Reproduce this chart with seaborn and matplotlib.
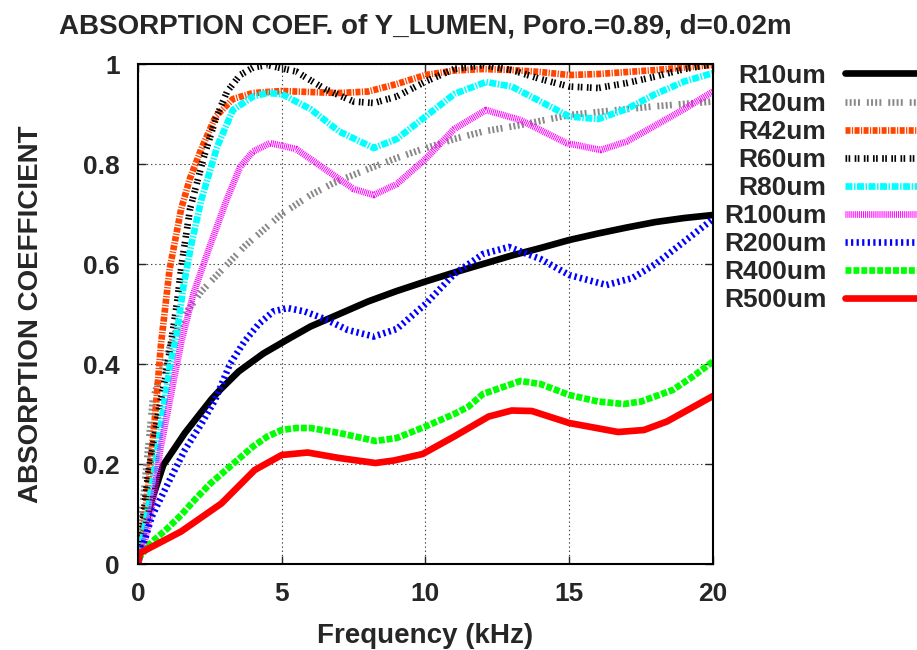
import matplotlib
matplotlib.use("Agg")
import matplotlib.pyplot as plt
import seaborn as sns

sns.set_style("ticks")
plt.rcParams['font.family'] = ['Liberation Sans', 'DejaVu Sans']
plt.rcParams['font.weight'] = 'bold'
plt.rcParams['lines.scale_dashes'] = False

# values (frequency in kHz, absorption coefficient)
f_r10 = [0, 0.13, 0.48, 0.88, 1.63, 2.56, 2.85, 3.5, 4.36, 5.29, 6, 7, 8, 9, 10, 11, 12, 13, 14, 15, 16, 17, 18, 19, 20]
a_r10 = [0, 0.048, 0.128, 0.198, 0.262, 0.33, 0.348, 0.385, 0.421, 0.452, 0.475, 0.5, 0.525, 0.546, 0.565,
         0.583, 0.6, 0.617, 0.632, 0.648, 0.661, 0.673, 0.684, 0.692, 0.698]

f_r20 = [0, 0.1, 0.3, 0.52, 0.94, 1.29, 1.74, 2.2, 2.7, 3.2, 3.7, 4.3, 5, 6, 6.8, 8, 9, 9.8, 11, 12, 13.3, 15, 16.5, 17.9, 20]
a_r20 = [0, 0.08, 0.2, 0.33, 0.408, 0.462, 0.508, 0.545, 0.575, 0.605, 0.635, 0.665, 0.7, 0.738, 0.762,
         0.79, 0.812, 0.828, 0.85, 0.865, 0.878, 0.898, 0.907, 0.915, 0.925]

f_r42 = [0, 0.2, 0.4, 0.6, 0.8, 1.1, 1.5, 1.8, 2.2, 2.7, 3.3, 4, 5, 6, 7, 8, 9, 10, 11, 12, 13, 14, 15, 16, 17, 18, 19, 20]
a_r42 = [0, 0.08, 0.18, 0.3, 0.44, 0.59, 0.71, 0.77, 0.83, 0.895, 0.93, 0.942, 0.946, 0.944, 0.942, 0.945,
         0.96, 0.978, 0.987, 0.99, 0.988, 0.984, 0.978, 0.98, 0.984, 0.988, 0.993, 0.998]

f_r60 = [0, 0.35, 0.7, 0.94, 1.17, 1.35, 1.52, 1.81, 2.27, 2.7, 3.1, 3.55, 4, 4.5, 5.5, 6.5, 7.5, 8.2, 9, 10,
         11, 12, 13, 14, 15, 16, 17, 18, 19, 20]
a_r60 = [0, 0.18, 0.3, 0.37, 0.45, 0.52, 0.6, 0.71, 0.81, 0.89, 0.945, 0.978, 0.993, 0.998, 0.985, 0.95,
         0.925, 0.922, 0.935, 0.965, 0.99, 0.998, 0.988, 0.97, 0.955, 0.952, 0.962, 0.975, 0.99, 1.0]

f_r80 = [0, 0.3, 0.59, 0.85, 1.11, 1.35, 1.58, 1.86, 2.2, 2.75, 3.3, 4, 4.5, 5, 6, 7, 8.2, 9, 10, 11, 12.1,
         13, 14, 15, 16, 17, 18, 19, 20]
a_r80 = [0, 0.095, 0.195, 0.3, 0.395, 0.461, 0.555, 0.641, 0.728, 0.834, 0.908, 0.935, 0.942, 0.94, 0.91,
         0.865, 0.832, 0.85, 0.895, 0.94, 0.964, 0.955, 0.925, 0.895, 0.89, 0.91, 0.94, 0.965, 0.982]

f_r100 = [0, 0.24, 0.53, 0.77, 1.05, 1.25, 1.52, 1.93, 2.45, 3.08, 3.55, 4, 4.6, 5.5, 6.5, 7.5, 8.2, 9, 10,
          11, 12.1, 13.3, 14.9, 16.1, 17, 17.9, 19, 20]
a_r100 = [0, 0.048, 0.128, 0.228, 0.31, 0.37, 0.448, 0.541, 0.628, 0.728, 0.794, 0.825, 0.842, 0.83, 0.79,
          0.75, 0.738, 0.76, 0.81, 0.87, 0.908, 0.888, 0.842, 0.828, 0.845, 0.874, 0.91, 0.945]

f_r200 = [0, 0.13, 0.48, 1.05, 1.63, 2.2, 2.68, 3.2, 3.7, 4.2, 4.7, 5.2, 5.8, 6.5, 7.3, 8.2, 9, 10, 11, 12,
          12.9, 14, 15, 16.3, 17.2, 18, 19, 20]
a_r200 = [0, 0.028, 0.095, 0.162, 0.228, 0.28, 0.328, 0.4, 0.445, 0.48, 0.505, 0.512, 0.505, 0.49, 0.468,
          0.455, 0.47, 0.52, 0.58, 0.62, 0.634, 0.61, 0.578, 0.558, 0.572, 0.6, 0.645, 0.69]

f_r400 = [0, 0.5, 1, 1.5, 2, 2.5, 3.2, 4, 4.5, 5, 5.5, 6, 7, 8.26, 9, 10, 11, 11.5, 12, 13.3, 14, 15, 16,
          16.9, 17.5, 18.6, 19.3, 20]
a_r400 = [0.01, 0.045, 0.07, 0.098, 0.13, 0.16, 0.195, 0.235, 0.255, 0.268, 0.272, 0.272, 0.262, 0.246,
          0.252, 0.275, 0.3, 0.315, 0.34, 0.366, 0.36, 0.338, 0.325, 0.32, 0.325, 0.348, 0.375, 0.405]

f_r500 = [0, 0.07, 1.5, 2.9, 4.06, 5, 5.9, 7, 8.26, 8.9, 9.9, 11, 12.2, 13, 13.7, 15, 16.7, 17.6, 18.4, 20]
a_r500 = [0, 0.022, 0.065, 0.121, 0.188, 0.218, 0.223, 0.212, 0.202, 0.207, 0.22, 0.255, 0.295, 0.307,
          0.306, 0.282, 0.264, 0.268, 0.285, 0.336]

labels = ['R10um', 'R20um', 'R42um', 'R60um', 'R80um', 'R100um', 'R200um', 'R400um', 'R500um']
freqs = [f_r10, f_r20, f_r42, f_r60, f_r80, f_r100, f_r200, f_r400, f_r500]
coefs = [a_r10, a_r20, a_r42, a_r60, a_r80, a_r100, a_r200, a_r400, a_r500]

colors = ['black', '#888888', '#ff4500', 'black', '#00ffff', '#ff00ff', '#0000ff', '#00ff00', '#ff0000']
styles = ['-',
          (0, (1.4, 1.6, 1.4, 1.6, 1.4, 1.6, 1.4, 5.0)),
          (0, (3.6, 1.0, 0.9, 1.0)),
          (0, (1.2, 1.0, 1.2, 3.2)),
          (0, (5.0, 1.1, 1.1, 1.1)),
          (0, (0.7, 0.7)),
          (0, (1.6, 2.4)),
          (0, (4.3, 1.4)),
          '-']

fig, ax = plt.subplots(figsize=(9.17, 6.5), dpi=100)
fig.subplots_adjust(left=0.1505, right=0.7775, bottom=0.1323, top=0.9015)

for f, a, lab, c, ls in zip(freqs, coefs, labels, colors, styles):
    sns.lineplot(x=f, y=a, ax=ax, color=c, linestyle=ls, linewidth=4.8, label=lab, sort=False)

ax.set_xlim(0, 20)
ax.set_ylim(0, 1)
ax.set_xticks([0, 5, 10, 15, 20])
ax.set_yticks([0, 0.2, 0.4, 0.6, 0.8, 1])
ax.set_yticklabels(['0', '0.2', '0.4', '0.6', '0.8', '1'])
ax.tick_params(direction='in', top=True, right=True, length=6, width=1, labelsize=19, pad=13)
ax.grid(True, color='#444444', linestyle=(0, (1, 2)), linewidth=0.8)
for s in ax.spines.values():
    s.set_linewidth(1.5)
    s.set_color('black')

ax.set_title('ABSORPTION COEF. of Y_LUMEN, Poro.=0.89, d=0.02m', fontsize=20, fontweight='bold', pad=22)
ax.set_xlabel('Frequency (kHz)', fontsize=20, fontweight='bold', labelpad=12)
ax.set_ylabel('ABSORPTION COEFFICIENT', fontsize=20, fontweight='bold', labelpad=28)

handles, labs = ax.get_legend_handles_labels()
ax.get_legend().remove()
fig.legend(handles, labs, loc='upper right', bbox_to_anchor=(1003 / 917, 0.902),
           frameon=False, markerfirst=False, handlelength=6.0, handletextpad=0.7,
           labelspacing=0.155, borderpad=0, borderaxespad=0,
           prop={'size': 19, 'weight': 'bold'})

fig.savefig('out.png', dpi=100)
